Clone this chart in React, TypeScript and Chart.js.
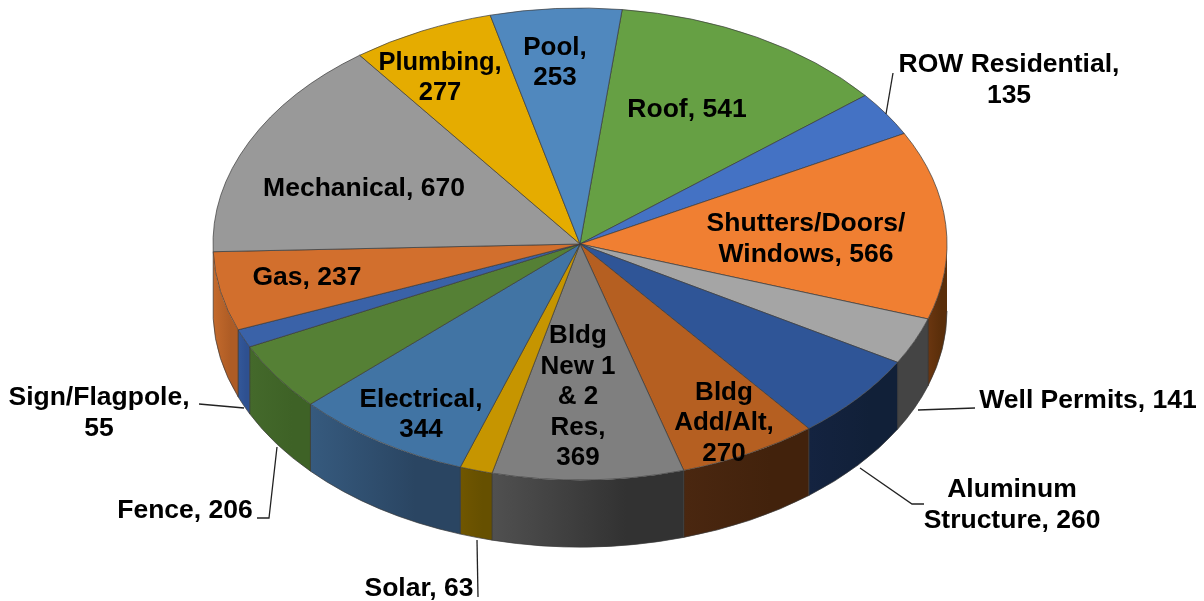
import React, { useEffect, useRef } from "react";
import { Chart, registerables } from "chart.js";

Chart.register(...registerables);

const categories = ["Roof", "ROW Residential", "Shutters/Doors/Windows", "Well Permits", "Aluminum Structure", "Bldg Add/Alt", "Bldg New 1 & 2 Res", "Solar", "Electrical", "Fence", "Sign/Flagpole", "Gas", "Mechanical", "Plumbing", "Pool"];
const permits = [541, 135, 566, 141, 260, 270, 369, 63, 344, 206, 55, 237, 670, 277, 253];
const topColors = ["#66A044", "#4472C4", "#F07F32", "#A5A5A5", "#2F5597", "#B55F21", "#7F7F7F", "#C69500", "#4174A4", "#558035", "#3A62A8", "#D26F2D", "#999999", "#E5AC00", "#5088BE"];
const wallLeft = ["#4E7A33", "#2F5597", "#6A3610", "#444444", "#142340", "#4A2710", "#505050", "#705600", "#365A7E", "#44692B", "#33589A", "#C46A2C", "#777777", "#A07800", "#3A6A96"];
const wallRight = ["#4E7A33", "#2F5597", "#5A2E0A", "#444444", "#112038", "#42220C", "#323232", "#665000", "#2A4562", "#3E6226", "#2E5090", "#AE5C25", "#777777", "#A07800", "#3A6A96"];

const labelLines = [
  ["Roof, 541"],
  ["ROW Residential,", "135"],
  ["Shutters/Doors/", "Windows, 566"],
  ["Well Permits, 141"],
  ["Aluminum", "Structure, 260"],
  ["Bldg", "Add/Alt,", "270"],
  ["Bldg", "New 1", "& 2", "Res,", "369"],
  ["Solar, 63"],
  ["Electrical,", "344"],
  ["Fence, 206"],
  ["Sign/Flagpole,", "55"],
  ["Gas, 237"],
  ["Mechanical, 670"],
  ["Plumbing,", "277"],
  ["Pool,", "253"],
];
const labelCenters = [
  [687, 110], [1009, 80], [806, 239], [1088, 401], [1012, 505], [724, 423], [578, 397],
  [419, 589], [421, 415], [185, 511], [99, 413], [307, 278], [364, 189], [440, 78], [555, 63],
];
const labelSizes = [26.5, 26.5, 26.5, 26.5, 26.5, 26, 26, 26.5, 26, 26.5, 26.5, 26.5, 26.5, 25.5, 26];
const leaders = [
  [[893, 73], [886, 114]],
  [[975, 408], [918, 410]],
  [[924, 504], [912, 504], [860, 468]],
  [[478, 597], [477, 540]],
  [[257, 518], [269, 518], [277, 447]],
  [[199, 404], [244, 408]],
];

const CX = 580;
const CY = 244;
const RX = 367;
const RY = 236;
const DEPTH = 67;
const LINE = 30.5;

const pie3d = {
  id: "pie3d",
  beforeDatasetsDraw(chart: any) {
    const ctx = chart.ctx;
    const arcs = chart.getDatasetMeta(0).data;
    arcs.forEach((arc: any, i: number) => {
      const a1 = Math.max(arc.startAngle, 0);
      const a2 = Math.min(arc.endAngle, Math.PI);
      if (a2 <= a1) return;
      const xL = CX + RX * Math.cos(a2);
      const xR = CX + RX * Math.cos(a1);
      if (xR - xL < 1) return;
      const g = ctx.createLinearGradient(xL, 0, xR, 0);
      g.addColorStop(0, wallLeft[i]);
      g.addColorStop(0.7, wallRight[i]);
      g.addColorStop(1, wallRight[i]);
      ctx.beginPath();
      ctx.ellipse(CX, CY, RX, RY, 0, a1, a2);
      ctx.ellipse(CX, CY + DEPTH, RX, RY, 0, a2, a1, true);
      ctx.closePath();
      ctx.fillStyle = g;
      ctx.fill();
      ctx.lineWidth = 0.7;
      ctx.strokeStyle = "#3a3a3a";
      ctx.beginPath();
      ctx.ellipse(CX, CY + DEPTH, RX, RY, 0, a1, a2);
      ctx.stroke();
      ctx.beginPath();
      if (a1 === arc.startAngle) {
        ctx.moveTo(xR, CY + RY * Math.sin(a1));
        ctx.lineTo(xR, CY + DEPTH + RY * Math.sin(a1));
      }
      if (a2 === arc.endAngle) {
        ctx.moveTo(xL, CY + RY * Math.sin(a2));
        ctx.lineTo(xL, CY + DEPTH + RY * Math.sin(a2));
      }
      ctx.stroke();
    });
    const first = arcs[0];
    ctx.save();
    ctx.translate(CX, CY);
    ctx.scale(RX / first.outerRadius, RY / first.outerRadius);
    ctx.translate(-first.x, -first.y);
  },
  afterDatasetsDraw(chart: any) {
    const ctx = chart.ctx;
    ctx.restore();
    ctx.strokeStyle = "#222222";
    ctx.lineWidth = 1.3;
    leaders.forEach((pts) => {
      ctx.beginPath();
      pts.forEach(([x, y], k) => (k ? ctx.lineTo(x, y) : ctx.moveTo(x, y)));
      ctx.stroke();
    });
    ctx.fillStyle = "#000000";
    ctx.textAlign = "center";
    ctx.textBaseline = "middle";
    labelLines.forEach((lines, i) => {
      const [x, y] = labelCenters[i];
      ctx.font = `bold ${labelSizes[i]}px "Liberation Sans"`;
      lines.forEach((t, k) => {
        ctx.fillText(t, x, y + (k - (lines.length - 1) / 2) * LINE);
      });
    });
  },
};

export default function App() {
  const ref = useRef<HTMLCanvasElement>(null);
  useEffect(() => {
    document.body.style.margin = "0";
    const chart = new Chart(ref.current as HTMLCanvasElement, {
      type: "pie",
      data: {
        labels: categories,
        datasets: [
          {
            data: permits,
            backgroundColor: topColors,
            borderColor: "#3a3a3a",
            borderWidth: 0.7,
            clip: false,
          } as any,
        ],
      },
      options: {
        responsive: false,
        animation: false,
        rotation: 6.6,
        devicePixelRatio: 1,
        plugins: { legend: { display: false }, tooltip: { enabled: false } },
      },
      plugins: [pie3d],
    });
    return () => chart.destroy();
  }, []);
  return <canvas ref={ref} width={1204} height={601} style={{ display: "block" }} />;
}
